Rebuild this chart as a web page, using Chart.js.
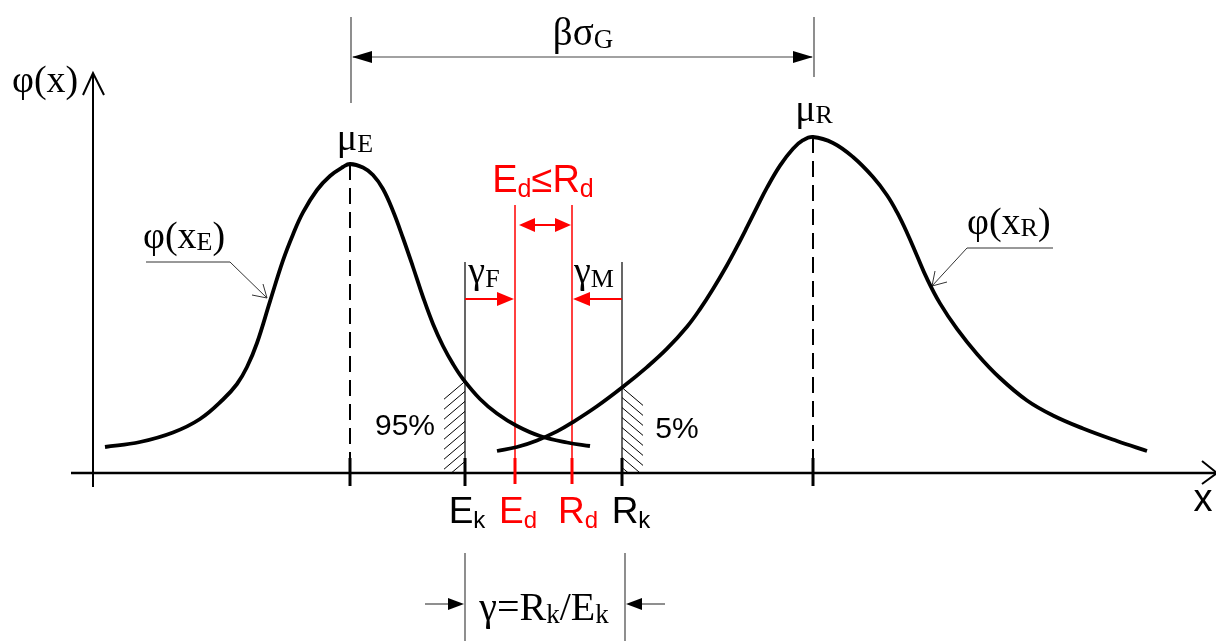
<!DOCTYPE html>
<html>
<head>
<meta charset="utf-8">
<script src="https://cdn.jsdelivr.net/npm/chart.js@4/dist/chart.umd.min.js"></script>
<style>
  html, body { margin: 0; padding: 0; background: #fff; }
  #wrap { width: 1216px; height: 641px; position: relative; }
</style>
</head>
<body>
<div id="wrap"><canvas id="c"></canvas></div>
<script>
// Load-effect density φ(x_E)
const effectX = [1.2, 4.7, 8.0, 10.7, 13.0, 14.4, 15.4, 16.4, 17.7, 19.0, 20.0, 21.0,
                 22.4, 23.7, 25.0, 25.7, 27.0, 28.0, 29.0, 30.0, 31.0, 32.0, 33.0,
                 34.0, 35.0, 36.0, 37.0, 38.7, 40.4, 42.4, 44.7, 47.4, 49.7];
const effectY = [2.6, 3.1, 4.05, 5.4, 7.35, 8.9, 10.6, 13.0, 17.16, 21.26, 23.86, 26.06,
                 28.3, 29.7, 30.6, 30.9, 30.55, 29.8, 28.4, 26.2, 23.5, 20.6, 17.6,
                 14.9, 12.7, 10.9, 9.4, 7.4, 5.95, 4.7, 3.7, 3.05, 2.7];

// Resistance density φ(x_R)
const resistX = [40.4, 42.4, 44.4, 46.4, 48.0, 50.4, 53.0, 55.4, 57.4, 59.4, 60.7, 62.0,
                 63.4, 64.4, 65.4, 66.4, 67.4, 68.7, 70.0, 71.0, 72.0, 74.0, 76.0,
                 78.0, 79.4, 80.4, 81.4, 82.4, 83.4, 84.7, 86.4, 88.4, 90.7, 93.4,
                 96.0, 99.0, 102.4, 105.4];
const resistY = [2.2, 2.6, 3.26, 4.16, 5.09, 6.67, 8.62, 10.59, 12.43, 14.63, 16.39, 18.4,
                 20.78, 22.63, 24.58, 26.58, 28.53, 30.74, 32.43, 33.28, 33.6, 33.0, 31.6,
                 29.6, 27.78, 26.08, 24.03, 21.73, 19.43, 16.96, 14.41, 11.91, 9.5, 7.25,
                 5.75, 4.45, 3.2, 2.2];

// Characteristic points on the x axis
const markerNames  = ['μE', 'Ek', 'Ed', 'Rd', 'Rk', 'μR'];
const markerValues = [25.7, 37.2, 42.2, 47.9, 52.9, 72.0];
const peakValues   = [30.9, 33.6];           // φ at μE and μR
const percentLabels = ['95%', '5%'];

const M = Object.fromEntries(markerNames.map((n, i) => [n, markerValues[i]]));

const SERIF = '"Liberation Serif", "Times New Roman", serif';
const SANS  = '"Liberation Sans", Arial, sans-serif';
const RED = '#ff0000';

function seg(ctx, x1, y1, x2, y2) {
  ctx.beginPath(); ctx.moveTo(x1, y1); ctx.lineTo(x2, y2); ctx.stroke();
}
function head(ctx, tx, ty, dir, len, half) {
  ctx.beginPath();
  ctx.moveTo(tx, ty);
  ctx.lineTo(tx - dir * len, ty - half);
  ctx.lineTo(tx - dir * len, ty + half);
  ctx.closePath(); ctx.fill();
}
function rich(ctx, parts, x, y, align) {
  let w = 0;
  parts.forEach(p => { ctx.font = p[1]; w += ctx.measureText(p[0]).width; });
  let cx = align === 'center' ? x - w / 2 : x;
  parts.forEach(p => {
    ctx.font = p[1];
    ctx.fillText(p[0], cx, y + (p[2] || 0));
    cx += ctx.measureText(p[0]).width;
  });
}
function interp(xs, ys, v) {
  for (let i = 1; i < xs.length; i++) {
    if (v <= xs[i]) {
      const t = (v - xs[i - 1]) / (xs[i] - xs[i - 1]);
      return ys[i - 1] + t * (ys[i] - ys[i - 1]);
    }
  }
  return ys[ys.length - 1];
}
function hatch(ctx, x1, x2, yTop, yBot, slope) {
  ctx.save();
  ctx.beginPath(); ctx.rect(x1, yTop, x2 - x1, yBot - yTop); ctx.clip();
  ctx.lineWidth = 1; ctx.strokeStyle = '#000';
  const dy = (x2 - x1) * 0.85;
  for (let y = yTop; y < yBot + 2; y += 10) {
    if (slope < 0) seg(ctx, x2, y, x1, y + dy);
    else seg(ctx, x1, y, x2, y + dy);
  }
  ctx.restore();
}

const diagram = {
  id: 'diagram',
  beforeDatasetsDraw(chart) {
    const ctx = chart.ctx;
    const xs = chart.scales.x, ys = chart.scales.y;
    const X = v => xs.getPixelForValue(v), Y = v => ys.getPixelForValue(v);
    const x0 = X(0), y0 = Y(0);
    ctx.save();
    ctx.lineCap = 'butt';

    // axes
    ctx.strokeStyle = '#000'; ctx.lineWidth = 2.5;
    seg(ctx, x0 - 22, y0, chart.width, y0);
    ctx.lineWidth = 2;
    seg(ctx, x0, y0 + 14, x0, Y(40.0));
    // open arrow tips
    ctx.beginPath();
    ctx.moveTo(x0 - 10, Y(40.0) + 22); ctx.lineTo(x0, Y(40.0)); ctx.lineTo(x0 + 11, Y(40.0) + 22);
    ctx.stroke();
    ctx.beginPath();
    ctx.moveTo(chart.width - 14, y0 - 12); ctx.lineTo(chart.width + 1, y0); ctx.lineTo(chart.width - 14, y0 + 11);
    ctx.stroke();

    // dashed mean lines
    ctx.setLineDash([16, 8]); ctx.lineWidth = 2;
    seg(ctx, X(M['μE']), Y(peakValues[0]), X(M['μE']), y0 - 15);
    seg(ctx, X(M['μR']), Y(peakValues[1]), X(M['μR']), y0 - 15);
    ctx.setLineDash([]);

    // axis ticks
    ctx.lineWidth = 3;
    ['μE', 'Ek', 'Rk', 'μR'].forEach(k => seg(ctx, X(M[k]), y0 - 15, X(M[k]), y0 + 13));
    ctx.strokeStyle = RED;
    ['Ed', 'Rd'].forEach(k => seg(ctx, X(M[k]), y0 - 15, X(M[k]), y0 + 11));

    // characteristic value guides
    ctx.strokeStyle = '#000'; ctx.lineWidth = 1.2;
    seg(ctx, X(M.Ek), Y(21.1), X(M.Ek), y0 - 15);
    seg(ctx, X(M.Rk), Y(21.1), X(M.Rk), y0 - 15);
    ctx.strokeStyle = RED; ctx.lineWidth = 1.5;
    seg(ctx, X(M.Ed), Y(26.8), X(M.Ed), y0 - 15);
    seg(ctx, X(M.Rd), Y(26.8), X(M.Rd), y0 - 15);

    // hatched tail areas
    const hE = Y(interp(effectX, effectY, M.Ek));
    const hR = Y(interp(resistX, resistY, M.Rk));
    hatch(ctx, X(M.Ek) - 21, X(M.Ek), hE, y0, -1);
    hatch(ctx, X(M.Rk), X(M.Rk) + 21, hR, y0, 1);

    // partial factor arrows
    ctx.fillStyle = RED; ctx.strokeStyle = RED; ctx.lineWidth = 2;
    const yg = Y(17.4);
    seg(ctx, X(M.Ek), yg, X(M.Ed) - 14, yg);
    head(ctx, X(M.Ed) - 1, yg, 1, 17, 7);
    seg(ctx, X(M.Rk), yg, X(M.Rd) + 14, yg);
    head(ctx, X(M.Rd) + 1, yg, -1, 17, 7);
    const yd = Y(24.8);
    seg(ctx, X(M.Ed) + 12, yd, X(M.Rd) - 12, yd);
    head(ctx, X(M.Ed) + 4, yd, -1, 16, 7);
    head(ctx, X(M.Rd) - 1, yd, 1, 16, 7);

    // βσ_G dimension
    ctx.strokeStyle = '#444'; ctx.fillStyle = '#000'; ctx.lineWidth = 1.2;
    const xa = X(M['μE']) + 1, xb = X(M['μR']) + 1;
    seg(ctx, xa, 17, xa, 103);
    seg(ctx, xb, 17, xb, 77);
    seg(ctx, xa + 2, 57, xb - 2, 57);
    head(ctx, xa + 1, 57, -1, 20, 6);
    head(ctx, xb - 1, 57, 1, 20, 6);

    // γ = Rk/Ek dimension
    const xk1 = X(M.Ek), xk2 = X(M.Rk) + 3;
    seg(ctx, xk1, 553, xk1, 641);
    seg(ctx, xk2, 553, xk2, 641);
    seg(ctx, xk1 - 40, 604, xk1 - 10, 604);
    head(ctx, xk1 - 1, 604, 1, 16, 6);
    seg(ctx, xk2 + 40, 604, xk2 + 10, 604);
    head(ctx, xk2 + 1, 604, -1, 16, 6);

    // leaders to the curves
    ctx.strokeStyle = '#333'; ctx.lineWidth = 1;
    seg(ctx, 146, 262, 230, 262);
    seg(ctx, 230, 262, 267, 298);
    ctx.beginPath(); ctx.moveTo(252, 295); ctx.lineTo(267, 298); ctx.lineTo(263, 284); ctx.stroke();
    seg(ctx, 967, 248, 1053, 248);
    seg(ctx, 967, 248, 932, 286);
    ctx.beginPath(); ctx.moveTo(935, 271); ctx.lineTo(932, 286); ctx.lineTo(947, 282); ctx.stroke();

    ctx.restore();
  },
  afterDatasetsDraw(chart) {
    const ctx = chart.ctx;
    const xs = chart.scales.x;
    const X = v => xs.getPixelForValue(v);
    ctx.save();
    ctx.textBaseline = 'alphabetic';
    ctx.fillStyle = '#000';

    const S = n => n + 'px ' + SERIF;
    const A = n => n + 'px ' + SANS;

    rich(ctx, [['φ(x)', S(38)]], 12, 92, 'left');
    rich(ctx, [['φ(x', S(38)], ['E', S(26), 2], [')', S(38)]], 143, 248, 'left');
    rich(ctx, [['φ(x', S(38)], ['R', S(26), 2], [')', S(38)]], 967, 234, 'left');
    rich(ctx, [['μ', S(38)], ['E', S(26), 2]], X(M['μE']) + 5, 150, 'center');
    rich(ctx, [['μ', S(38)], ['R', S(26), 2]], X(M['μR']) + 1, 121, 'center');
    rich(ctx, [['βσ', S(39)], ['G', S(27), 3]], 583, 45, 'center');
    rich(ctx, [['γ', S(38)], ['F', S(26), 4]], X(M.Ek) + 19, 283, 'center');
    rich(ctx, [['γ', S(38)], ['M', S(26), 4]], X(M.Rd) + 22, 283, 'center');
    rich(ctx, [['γ=R', S(40)], ['k', S(27), 3], ['/E', S(40)], ['k', S(27), 3]], 544, 620, 'center');

    rich(ctx, [[percentLabels[0], A(30)]], 405, 435, 'center');
    rich(ctx, [[percentLabels[1], A(30)]], 677, 438, 'center');
    rich(ctx, [['x', A(38)]], 1203, 511, 'center');

    rich(ctx, [['E', A(37)], ['k', A(24), 5]], X(M.Ek) + 2, 523, 'center');
    rich(ctx, [['R', A(37)], ['k', A(24), 5]], X(M.Rk) + 9, 523, 'center');
    ctx.fillStyle = RED;
    rich(ctx, [['E', A(37)], ['d', A(24), 5]], X(M.Ed) + 3, 523, 'center');
    rich(ctx, [['R', A(37)], ['d', A(24), 5]], X(M.Rd) + 6, 523, 'center');
    rich(ctx, [['E', A(38)], ['d', A(25), 5], ['≤R', A(38)], ['d', A(25), 5]], 543, 192, 'center');

    ctx.restore();
  }
};

new Chart(document.getElementById('c'), {
  type: 'scatter',
  data: {
    datasets: [
      { label: 'φ(xE)', data: effectX.map((x, i) => ({ x, y: effectY[i] })) },
      { label: 'φ(xR)', data: resistX.map((x, i) => ({ x, y: resistY[i] })) }
    ].map(d => Object.assign(d, {
      showLine: true, borderColor: '#000', borderWidth: 3.8, pointRadius: 0,
      tension: 0.4, cubicInterpolationMode: 'default', fill: false, borderCapStyle: 'butt',
      borderJoinStyle: 'round'
    }))
  },
  options: {
    responsive: true,
    maintainAspectRatio: false,
    animation: false,
    events: [],
    layout: { padding: 0 },
    plugins: { legend: { display: false }, tooltip: { enabled: false } },
    scales: {
      x: { type: 'linear', min: -9.3, max: 112.3, display: false },
      y: { type: 'linear', min: -16.8, max: 47.3, display: false }
    }
  },
  plugins: [diagram]
});
</script>
</body>
</html>
